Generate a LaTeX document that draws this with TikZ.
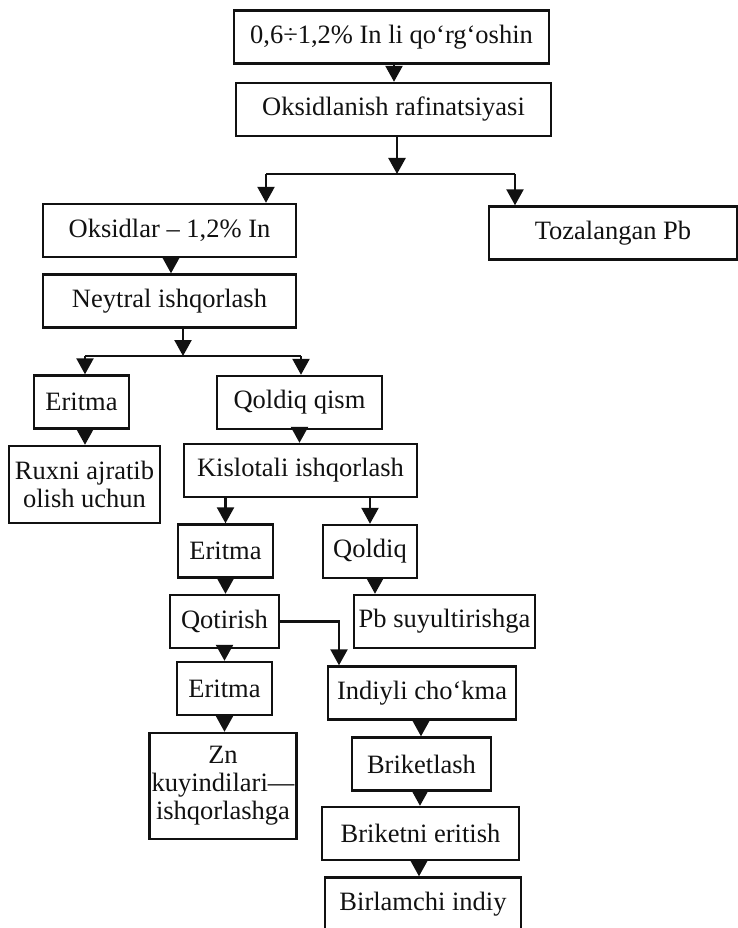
\documentclass[tikz,border=0pt]{standalone}
\usepackage{fontspec}
\setmainfont{Liberation Serif}
\usetikzlibrary{arrows.meta}
\definecolor{lineclr}{HTML}{111111}
\definecolor{textclr}{HTML}{111111}
\tikzset{
  pbox/.style={draw=lineclr, line width=2.4pt, minimum height=53pt, inner sep=2pt, align=center, text=textclr, font=\fontsize{26.5}{28}\selectfont},
  pline/.style={draw=lineclr, line width=2.4pt},
  parrow/.style={draw=lineclr, line width=2.4pt, -{Triangle[width=17pt,length=16pt]}}
}

\begin{document}
\begin{tikzpicture}[x=1pt,y=-1pt]
  \useasboundingbox (0,0) rectangle (738,928);

  % top of the scheme
  \node[pbox, minimum width=315pt] (lead) at (391.5,37) {0,6÷1,2\% In li qo‘rg‘oshin};
  \node[pbox, minimum width=315pt] (rafin) at (393.5,109.5) {Oksidlanish rafinatsiyasi};
  \node[pbox, minimum width=253pt] (oksid) at (169.5,230.5) {Oksidlar – 1,2\% In};
  \node[pbox, minimum width=248pt] (pure) at (613,233) {Tozalangan Pb};
  \node[pbox, minimum width=253pt] (neutral) at (169.5,301) {Neytral ishqorlash};

  % neutral leaching branch
  \node[pbox, minimum width=95pt] (solA) at (81.5,402) {Eritma};
  \node[pbox, minimum width=165pt] (resid) at (299.5,402.5) {Qoldiq qism};
  \node[pbox, minimum width=151pt, minimum height=77pt] (zinc) at (84.5,484.5) {Ruxni ajratib\\olish uchun};
  \node[pbox, minimum width=233pt] (acid) at (300.5,470.5) {Kislotali ishqorlash};

  % acid leaching branch
  \node[pbox, minimum width=95pt] (solB) at (225.5,551) {Eritma};
  \node[pbox, minimum width=94pt] (residB) at (370,551.5) {Qoldiq};
  \node[pbox, minimum width=109pt] (cement) at (224.5,621.5) {Qotirish};
  \node[pbox, minimum width=181pt] (pbmelt) at (444.5,621.5) {Pb suyultirishga};
  \node[pbox, minimum width=95pt] (solC) at (224.5,688.5) {Eritma};
  \node[pbox, minimum width=142pt, minimum height=106pt] (znroast) at (223,786) {Zn\\kuyindilari—\\ishqorlashga};
  \node[pbox, minimum width=188pt] (sludge) at (422,693) {Indiyli cho‘kma};
  \node[pbox, minimum width=139pt] (brick) at (421.5,764) {Briketlash};
  \node[pbox, minimum width=197pt] (brmelt) at (420.5,833.5) {Briketni eritish};
  \node[pbox, minimum width=196pt] (indium) at (423,904) {Birlamchi indiy};

  % split points
  \coordinate (split1) at (397,174);
  \coordinate (split1L) at (266,174);
  \coordinate (split1R) at (515,174);
  \coordinate (split2) at (183,356);
  \coordinate (split2L) at (85,356);
  \coordinate (split2R) at (301,356);
  \coordinate (turn) at (339,621.5);

  \draw[parrow] ([xshift=2.5pt]lead.south) -- ([xshift=2.5pt]lead.south |- rafin.north);
  \draw[parrow] (rafin.south -| split1) -- (split1);
  \draw[pline] (split1L) -- (split1R);
  \draw[parrow] (split1L) -- (split1L |- oksid.north);
  \draw[parrow] (split1R) -- (split1R |- pure.north);
  \draw[parrow] ([xshift=1.5pt]oksid.south) -- ([xshift=1.5pt]oksid.south |- neutral.north);

  \draw[parrow] (neutral.south -| split2) -- (split2);
  \draw[pline] (split2L) -- (split2R);
  \draw[parrow] (split2L) -- (split2L |- solA.north);
  \draw[parrow] (split2R) -- (split2R |- resid.north);
  \draw[parrow] (solA.south -| split2L) -- (split2L |- zinc.north);
  \draw[parrow] (resid.south) -- (resid.south |- acid.north);

  \draw[parrow] (acid.south -| solB) -- (solB.north);
  \draw[parrow] (acid.south -| residB) -- (residB.north);
  \draw[parrow] (solB.south) -- (solB.south |- cement.north);
  \draw[parrow] ([xshift=5pt]residB.south) -- ([xshift=5pt]residB.south |- pbmelt.north);
  \draw[parrow] (cement.east) -- (turn) -- (turn |- sludge.north);
  \draw[parrow] (cement.south) -- (cement.south |- solC.north);
  \draw[parrow] (solC.south) -- (solC.south |- znroast.north);
  \draw[parrow] ([xshift=-1pt]sludge.south) -- ([xshift=-1pt]sludge.south |- brick.north);
  \draw[parrow] ([xshift=-1.5pt]brick.south) -- ([xshift=-1.5pt]brick.south |- brmelt.north);
  \draw[parrow] ([xshift=-1.5pt]brmelt.south) -- ([xshift=-1.5pt]brmelt.south |- indium.north);
\end{tikzpicture}
\end{document}
